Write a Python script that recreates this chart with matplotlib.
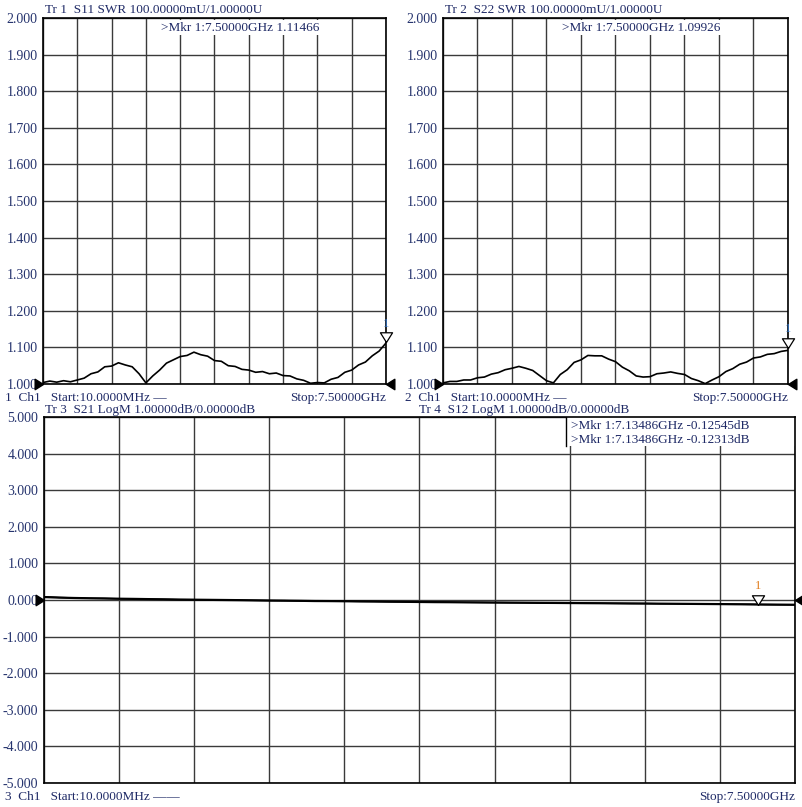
import numpy as np
import matplotlib
matplotlib.use('Agg')
import matplotlib.pyplot as plt
from matplotlib.patches import Rectangle

# sweep: 10 MHz .. 7.5 GHz, 51 points
freq = np.linspace(0.01, 7.5, 51)

s11 = [1.004, 1.008, 1.005, 1.009, 1.006, 1.011, 1.016, 1.028, 1.033, 1.047,
       1.049, 1.058, 1.052, 1.047, 1.028, 1.003, 1.022, 1.038, 1.057, 1.066,
       1.075, 1.078, 1.087, 1.080, 1.076, 1.064, 1.062, 1.050, 1.048, 1.040,
       1.038, 1.032, 1.034, 1.028, 1.030, 1.023, 1.022, 1.014, 1.010, 1.002,
       1.004, 1.003, 1.013, 1.018, 1.032, 1.038, 1.052, 1.060, 1.077, 1.090, 1.112]

s22 = [1.003, 1.007, 1.007, 1.011, 1.011, 1.017, 1.019, 1.027, 1.031, 1.039,
       1.043, 1.048, 1.043, 1.037, 1.023, 1.009, 1.003, 1.026, 1.039, 1.059,
       1.066, 1.078, 1.077, 1.077, 1.068, 1.061, 1.046, 1.036, 1.022, 1.019,
       1.020, 1.028, 1.030, 1.033, 1.029, 1.026, 1.015, 1.009, 1.001, 1.011,
       1.020, 1.034, 1.042, 1.054, 1.060, 1.071, 1.074, 1.081, 1.083, 1.089, 1.092]

s21 = [0.08, 0.065, 0.055, 0.048, 0.042, 0.035, 0.030, 0.024, 0.018, 0.012,
       0.008, 0.004, 0.000, -0.004, -0.010, -0.014, -0.018, -0.022, -0.028, -0.030,
       -0.034, -0.038, -0.042, -0.046, -0.050, -0.054, -0.058, -0.060, -0.064, -0.066,
       -0.070, -0.072, -0.075, -0.078, -0.080, -0.083, -0.086, -0.088, -0.092, -0.094,
       -0.097, -0.100, -0.103, -0.106, -0.109, -0.112, -0.116, -0.119, -0.125, -0.127, -0.130]

s12 = [0.09, 0.070, 0.058, 0.046, 0.044, 0.033, 0.031, 0.022, 0.019, 0.010,
       0.009, 0.002, 0.001, -0.006, -0.009, -0.016, -0.017, -0.024, -0.026, -0.032,
       -0.033, -0.040, -0.041, -0.048, -0.049, -0.056, -0.057, -0.062, -0.063, -0.068,
       -0.069, -0.074, -0.074, -0.080, -0.079, -0.085, -0.085, -0.090, -0.091, -0.096,
       -0.096, -0.102, -0.102, -0.108, -0.108, -0.114, -0.115, -0.121, -0.123, -0.129, -0.131]

swr_ticks = [1.0, 1.1, 1.2, 1.3, 1.4, 1.5, 1.6, 1.7, 1.8, 1.9, 2.0]
db_ticks = [-5, -4, -3, -2, -1, 0, 1, 2, 3, 4, 5]

mkr_top = [(7.5, 1.11466), (7.5, 1.09926)]
mkr_bot = (7.13486, -0.12545)

W, H = 803, 807
TXT = '#1f2a66'
FONT = 'Liberation Serif'
plt.rcParams['font.family'] = FONT

fig = plt.figure(figsize=(W / 100, H / 100), dpi=100)


def px(x, y):
    return x / W, 1 - y / H


def make_ax(x0, y0, x1, y1, ymin, ymax, ticks, fmt):
    ax = fig.add_axes([x0 / W, 1 - y1 / H, (x1 - x0) / W, (y1 - y0) / H])
    ax.set_xlim(0.01, 7.5)
    ax.set_ylim(ymin, ymax)
    ax.set_xticks(np.linspace(0.01, 7.5, 11))
    ax.set_xticklabels([])
    ax.set_yticks(ticks)
    ax.set_yticklabels([fmt % t for t in ticks], color='#26346e', fontsize=10)
    ax.tick_params(length=0, pad=4)
    ax.grid(True, color='#3a3a3a', linewidth=1.0)
    for s in ax.spines.values():
        s.set_color('black')
        s.set_linewidth(1.2)
        s.set_zorder(9)
    return ax


tri_right = [(0, 0), (-1.6, 1), (-1.6, -1), (0, 0)]
tri_left = [(0, 0), (1.6, 1), (1.6, -1), (0, 0)]
tri_down = [(0, 0), (-1, 1.6), (1, 1.6), (0, 0)]


def ref_arrows(ax, y):
    ax.plot([0.01], [y], marker=tri_right, markersize=12, color='black', clip_on=False, zorder=10)
    ax.plot([7.5], [y], marker=tri_left, markersize=12, color='black', clip_on=False, zorder=10)


def marker(ax, x, y, dy, color):
    ax.plot([x], [y], marker=tri_down, markersize=14, markerfacecolor='white',
            markeredgecolor='black', markeredgewidth=0.9, clip_on=False, zorder=10)
    ax.annotate('1', (x, y), xytext=(0, dy), textcoords='offset points', ha='center',
                va='bottom', color=color, fontsize=9, annotation_clip=False, zorder=11)


# top left: S11
ax1 = make_ax(43, 18, 386, 384, 1.0, 2.0, swr_ticks, '%.3f')
ax1.plot(freq, s11, color='black', linewidth=1.2, zorder=4)
ref_arrows(ax1, 1.0)
marker(ax1, mkr_top[0][0], mkr_top[0][1], 9, '#2f6fbf')
ax1.text(0.345, 0.99, '>Mkr 1:7.50000GHz 1.11466', transform=ax1.transAxes, ha='left', va='top',
         color=TXT, fontsize=9.5, bbox=dict(facecolor='white', edgecolor='none', pad=1.0), zorder=7)

# top right: S22
ax2 = make_ax(443, 18, 788, 384, 1.0, 2.0, swr_ticks, '%.3f')
ax2.plot(freq, s22, color='black', linewidth=1.2, zorder=4)
ref_arrows(ax2, 1.0)
marker(ax2, mkr_top[1][0], mkr_top[1][1], 9, '#2f6fbf')
ax2.text(0.345, 0.99, '>Mkr 1:7.50000GHz 1.09926', transform=ax2.transAxes, ha='left', va='top',
         color=TXT, fontsize=9.5, bbox=dict(facecolor='white', edgecolor='none', pad=1.0), zorder=7)

# bottom: S21 / S12
ax3 = make_ax(44, 417, 795, 783, -5, 5, db_ticks, '%.3f')
ax3.plot(freq, s21, color='black', linewidth=1.6, zorder=4)
ax3.plot(freq, s12, color='black', linewidth=1.0, zorder=4)
ref_arrows(ax3, 0.0)
marker(ax3, mkr_bot[0], mkr_bot[1], 9, '#e07b1a')
bx0 = (566 - 44) / 751
by0 = 1 - (446 - 417) / 366
ax3.add_patch(Rectangle((bx0, by0), 1 - bx0, 1 - by0, transform=ax3.transAxes,
                        facecolor='white', edgecolor='none', zorder=6))
ax3.plot([bx0, bx0], [by0, 1], transform=ax3.transAxes, color='black', linewidth=1.0, zorder=7)
ax3.text(bx0 + 0.006, 0.993, '>Mkr 1:7.13486GHz -0.12545dB\n>Mkr 1:7.13486GHz -0.12313dB',
         transform=ax3.transAxes, ha='left', va='top', color=TXT, fontsize=9.5, linespacing=1.3,
         zorder=8)

# header / footer texts
fig.text(*px(45, 10), 'Tr 1  S11 SWR 100.00000mU/1.00000U', color=TXT, fontsize=9.5, va='center')
fig.text(*px(445, 10), 'Tr 2  S22 SWR 100.00000mU/1.00000U', color=TXT, fontsize=9.5, va='center')
fig.text(*px(5, 398), '1  Ch1   Start:10.0000MHz \u2014', color=TXT, fontsize=9.5, va='center')
fig.text(*px(386, 398), 'Stop:7.50000GHz', color=TXT, fontsize=9.5, va='center', ha='right')
fig.text(*px(405, 398), '2  Ch1   Start:10.0000MHz \u2014', color=TXT, fontsize=9.5, va='center')
fig.text(*px(788, 398), 'Stop:7.50000GHz', color=TXT, fontsize=9.5, va='center', ha='right')
fig.text(*px(45, 410), 'Tr 3  S21 LogM 1.00000dB/0.00000dB', color=TXT, fontsize=9.5, va='center')
fig.text(*px(419, 410), 'Tr 4  S12 LogM 1.00000dB/0.00000dB', color=TXT, fontsize=9.5, va='center')
fig.text(*px(5, 797), '3  Ch1   Start:10.0000MHz \u2014\u2014', color=TXT, fontsize=9.5, va='center')
fig.text(*px(795, 797), 'Stop:7.50000GHz', color=TXT, fontsize=9.5, va='center', ha='right')

fig.savefig('out.png', dpi=100, facecolor='white')
